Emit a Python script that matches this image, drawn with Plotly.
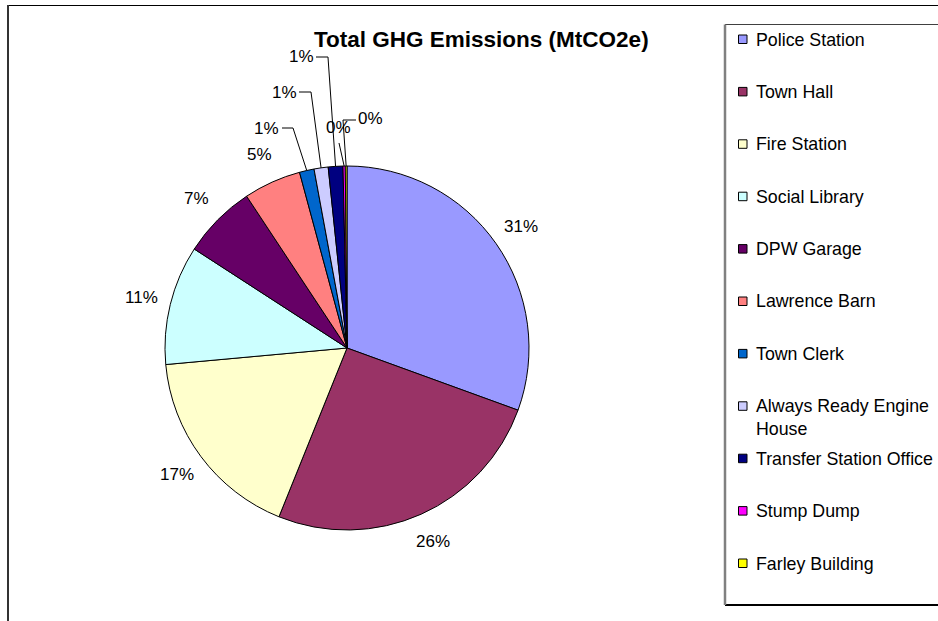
import math
import plotly.graph_objects as go

# Emission share by facility (percent of total MtCO2e)
facilities = [
    "Police Station", "Town Hall", "Fire Station", "Social Library", "DPW Garage",
    "Lawrence Barn", "Town Clerk", "Always Ready Engine House",
    "Transfer Station Office", "Stump Dump", "Farley Building",
]
legend_text = [
    "Police Station", "Town Hall", "Fire Station", "Social Library", "DPW Garage",
    "Lawrence Barn", "Town Clerk", "Always Ready Engine<br>House",
    "Transfer Station Office", "Stump Dump", "Farley Building",
]
emission_share = [30.55, 25.55, 17.45, 10.6, 6.55, 5.1, 1.3, 1.25, 1.3, 0.2, 0.15]
slice_colors = [
    "#9999FF", "#993366", "#FFFFCC", "#CCFFFF", "#660066",
    "#FF8080", "#0066CC", "#CCCCFF", "#000080", "#FF00FF", "#FFFF00",
]
title_text = "Total GHG Emissions (MtCO2e)"

W, H = 938, 621
CX, CY, R = 347, 348, 182
FONT = "Liberation Sans, Arial, sans-serif"


def to_paper(x, y):
    return x / W, 1 - y / H


total = sum(emission_share)
fractions = [v / total for v in emission_share]
mid_angles = []
acc = 0.0
for f in fractions:
    mid_angles.append((acc + f / 2) * 2 * math.pi)
    acc += f


def polar(angle, radius):
    return CX + radius * math.sin(angle), CY - radius * math.cos(angle)


fig = go.Figure(
    go.Pie(
        labels=facilities,
        values=emission_share,
        sort=False,
        direction="clockwise",
        rotation=0,
        textinfo="none",
        hoverinfo="label+percent",
        showlegend=False,
        marker=dict(colors=slice_colors, line=dict(color="black", width=1)),
        domain=dict(
            x=[(CX - R) / W, (CX + R) / W],
            y=[1 - (CY + R) / H, 1 - (CY - R) / H],
        ),
    )
)

annotations = []
shapes = []

# Percentage labels: large slices sit just outside the rim,
# small slices get lifted labels joined by leader lines.
small_label_pos = {6: (266, 128), 7: (284, 92), 8: (301, 57), 9: (338, 127), 10: (370, 119)}
small_leader_pts = {
    6: [(282, 128), (293, 128)],
    7: [(299, 92), (311, 92)],
    8: [(316, 57), (328, 57)],
    9: [(339, 143)],
    10: [(356, 120), (343, 120)],
}
for i, v in enumerate(emission_share):
    pct = f"{v / total * 100:.0f}%"
    if i in small_label_pos:
        lx, ly = small_label_pos[i]
        pts = small_leader_pts[i] + [polar(mid_angles[i], R)]
        path = ""
        for k, (x, y) in enumerate(pts):
            px_, py_ = to_paper(x, y)
            path += ("M" if k == 0 else " L") + f" {px_:.5f} {py_:.5f}"
        shapes.append(dict(type="path", path=path, xref="paper", yref="paper",
                           line=dict(color="black", width=1)))
    else:
        lx, ly = polar(mid_angles[i], R + 30)
    ax, ay = to_paper(lx, ly)
    annotations.append(dict(x=ax, y=ay, xref="paper", yref="paper", text=pct,
                            showarrow=False, xanchor="center", yanchor="middle",
                            font=dict(family=FONT, size=17, color="black")))

# Title
tx, ty = to_paper(481.5, 40)
annotations.append(dict(x=tx, y=ty, xref="paper", yref="paper", text=f"<b>{title_text}</b>",
                        showarrow=False, xanchor="center", yanchor="middle",
                        font=dict(family=FONT, size=22.5, color="black")))

# Chart frame
for (x0, y0, x1, y1, col, wd) in [
    (8, 5.5, 940, 5.5, "black", 1),
    (8, 5, 8, 625, "#333333", 2),
]:
    a0, b0 = to_paper(x0, y0)
    a1, b1 = to_paper(x1, y1)
    shapes.append(dict(type="line", xref="paper", yref="paper", x0=a0, y0=b0, x1=a1, y1=b1,
                       line=dict(color=col, width=wd)))

# Legend box
for (x0, y0, x1, y1, col, wd) in [
    (725, 24.5, 940, 24.5, "#404040", 1),
    (725, 605, 940, 605, "black", 2),
    (725, 24.5, 725, 605, "#808080", 2.5),
]:
    a0, b0 = to_paper(x0, y0)
    a1, b1 = to_paper(x1, y1)
    shapes.append(dict(type="line", xref="paper", yref="paper", x0=a0, y0=b0, x1=a1, y1=b1,
                       line=dict(color=col, width=wd)))

# Legend entries
ENTRY_Y0, ENTRY_STEP = 39.5, 52.4
for i, (name, col) in enumerate(zip(legend_text, slice_colors)):
    yc = ENTRY_Y0 + i * ENTRY_STEP
    a0, b0 = to_paper(738.5, yc - 4.5)
    a1, b1 = to_paper(747, yc + 4)
    shapes.append(dict(type="rect", xref="paper", yref="paper", x0=a0, y0=b0, x1=a1, y1=b1,
                       fillcolor=col, line=dict(color="black", width=1)))
    text_y = yc + (11.35 if "<br>" in name else 0)
    ax, ay = to_paper(754, text_y)
    annotations.append(dict(x=ax, y=ay, xref="paper", yref="paper", text=name,
                            showarrow=False, xanchor="left", yanchor="middle", align="left",
                            font=dict(family=FONT, size=17.8, color="black")))

fig.update_layout(
    width=W, height=H,
    margin=dict(l=0, r=0, t=0, b=0),
    paper_bgcolor="white", plot_bgcolor="white",
    annotations=annotations, shapes=shapes,
)

fig.write_html("out.html")
